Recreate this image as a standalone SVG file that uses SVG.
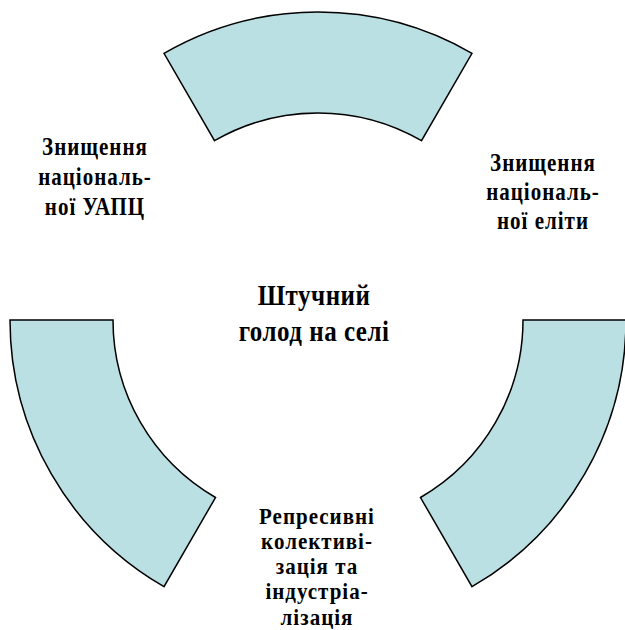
<svg xmlns="http://www.w3.org/2000/svg" width="625" height="630" viewBox="0 0 625 630">
<style>
.seg{fill:#BAE0E3;stroke:#000;stroke-width:1.5;stroke-linejoin:miter}
.lbl{font-family:"Liberation Serif","Times New Roman",serif;font-weight:bold;font-size:21px;letter-spacing:1px;fill:#000;text-anchor:middle}
.ctr{font-size:25px;letter-spacing:0.5px}
</style>
<rect width="625" height="630" fill="#fff"/>
<g id="seg-top">
<path class="seg" d="M164,53.3 A308,308 0 0 1 472,53.3 L421.5,140.7 A207,207 0 0 0 214.5,140.7 Z"/>
</g>
<g id="seg-left">
<path class="seg" d="M10,320 L113,320 A205,205 0 0 0 215.5,497.5 L164,586.7 A308,308 0 0 1 10,320 Z"/>
</g>
<g id="seg-right">
<path class="seg" d="M626,320 L523,320 A205,205 0 0 1 420.5,497.5 L472,586.7 A308,308 0 0 0 626,320 Z"/>
</g>
<g id="label-center">
<text class="lbl ctr" transform="translate(314 305) scale(1 1.15)">Штучний</text>
<text class="lbl ctr" transform="translate(314 341) scale(1 1.15)">голод на селі</text>
</g>
<g id="label-left">
<text class="lbl" transform="translate(95 155) scale(1 1.15)">Знищення</text>
<text class="lbl" transform="translate(95 185) scale(1 1.15)">національ-</text>
<text class="lbl" transform="translate(95 215) scale(1 1.15)">ної УАПЦ</text>
</g>
<g id="label-right">
<text class="lbl" transform="translate(543 171) scale(1 1.15)">Знищення</text>
<text class="lbl" transform="translate(543 200) scale(1 1.15)">національ-</text>
<text class="lbl" transform="translate(543 229) scale(1 1.15)">ної еліти</text>
</g>
<g id="label-bottom">
<text class="lbl" transform="translate(317 524) scale(1 1.1)">Репресивні</text>
<text class="lbl" transform="translate(317 549) scale(1 1.1)">колективі-</text>
<text class="lbl" transform="translate(317 574) scale(1 1.1)">зація та</text>
<text class="lbl" transform="translate(317 599) scale(1 1.1)">індустріа-</text>
<text class="lbl" transform="translate(317 625) scale(1 1.1)">лізація</text>
</g>
<g id="connectors"/>
</svg>
